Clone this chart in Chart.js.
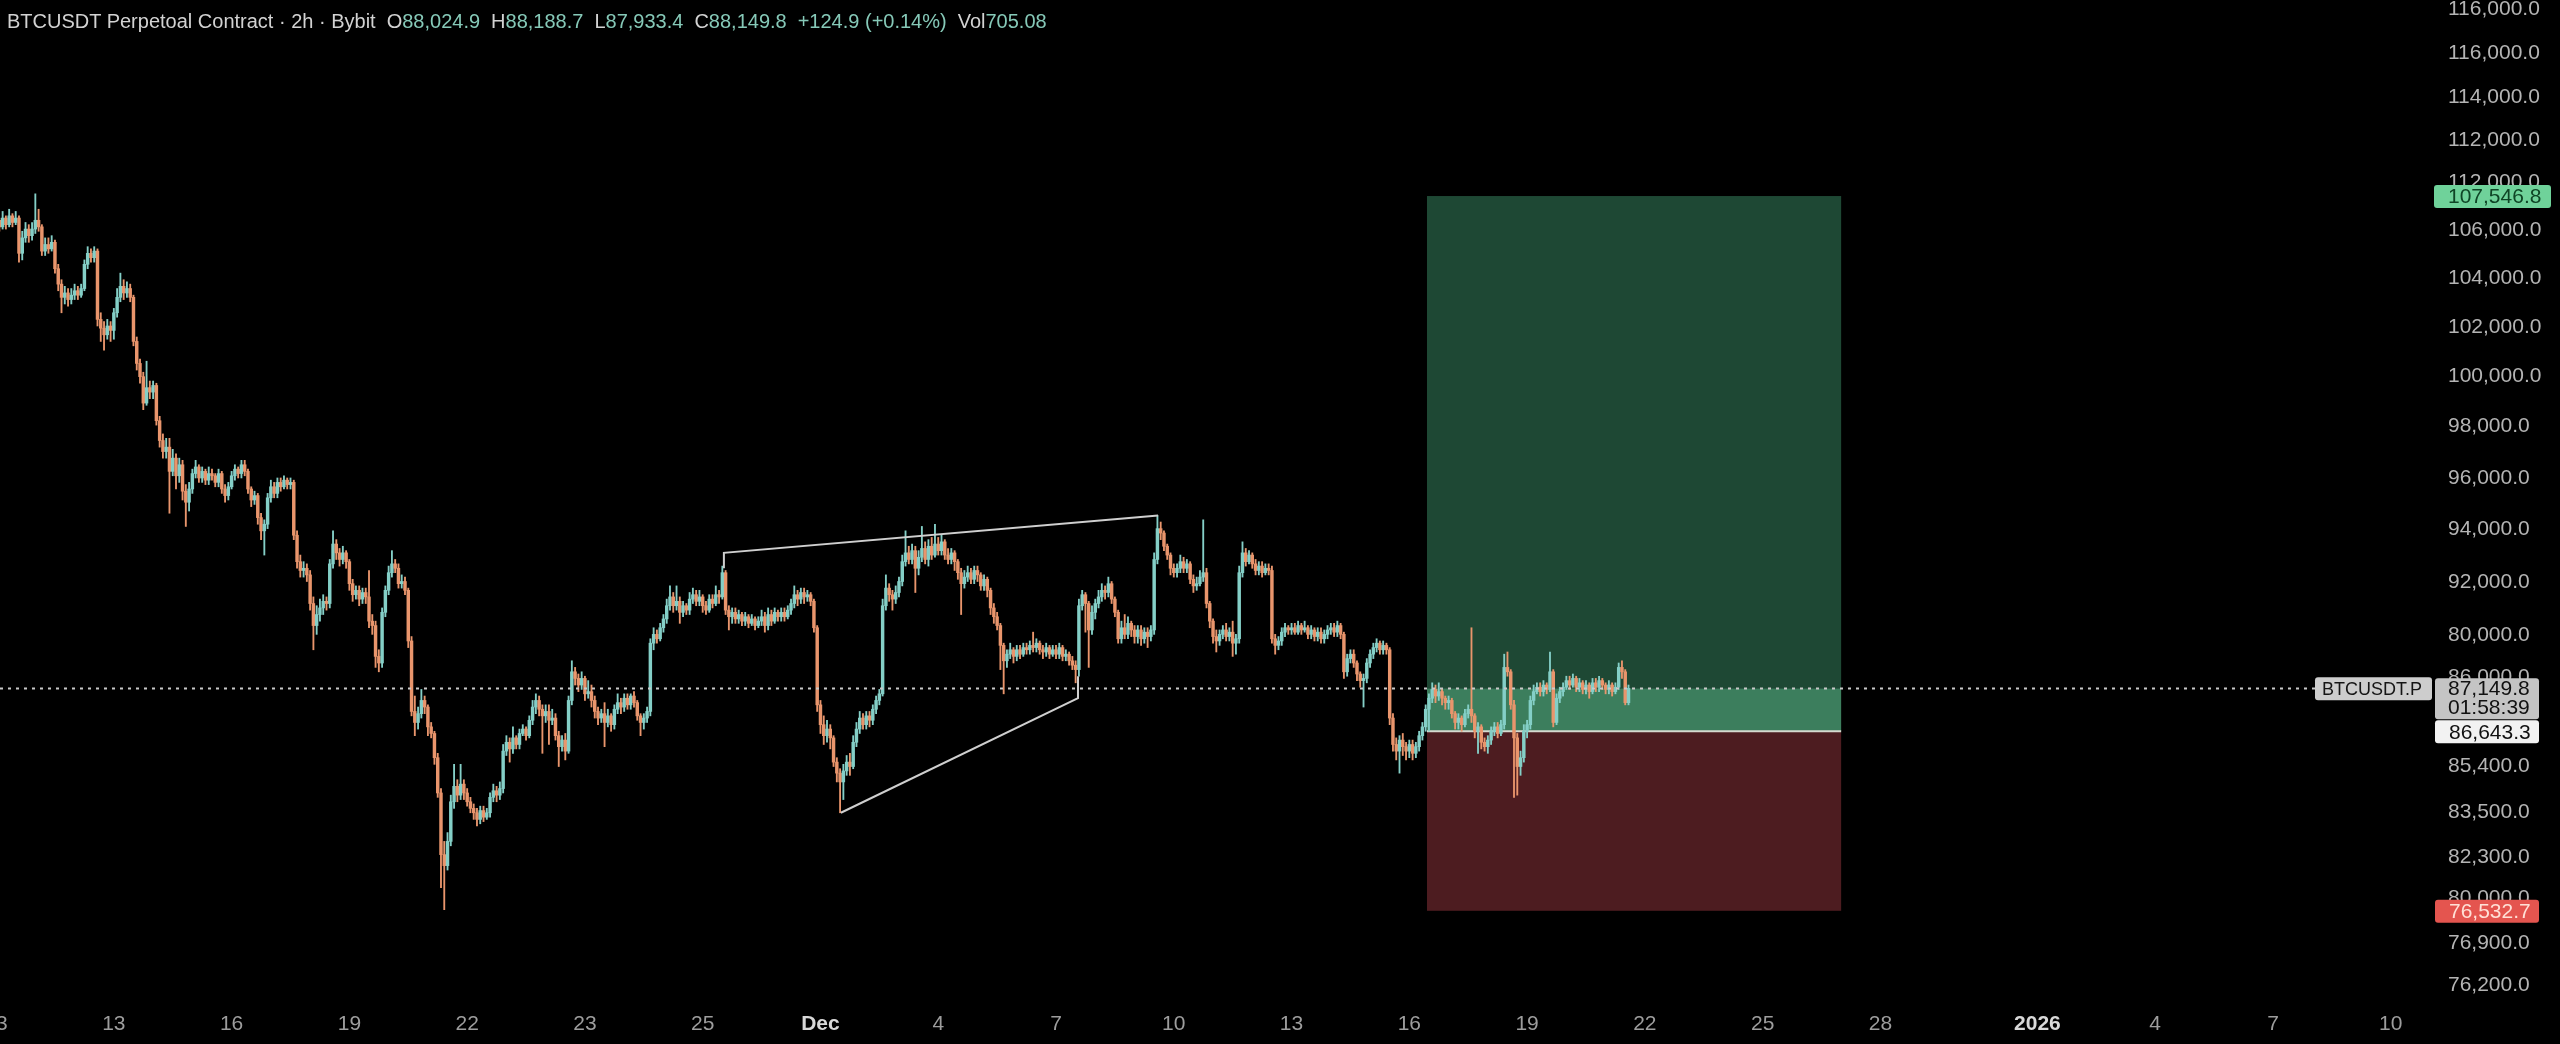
<!DOCTYPE html>
<html>
<head>
<meta charset="utf-8">
<title>BTCUSDT 2h</title>
<script src="https://cdn.jsdelivr.net/npm/chart.js@4.4.1/dist/chart.umd.min.js"></script>
<style>
  html, body { margin: 0; padding: 0; background: #000; }
  #wrap { position: relative; width: 2560px; height: 1044px; overflow: hidden; }
  #chart { position: absolute; left: 0; top: 0; }
  #header {
    position: absolute; left: 7px; top: 9px;
    font: 20px "Liberation Sans", Arial, sans-serif; line-height: 24px;
    color: #d2d2d2; white-space: nowrap;
  }
  #header .g { margin-left: 11px; }
  #header .v { color: #86c9b8; }
</style>
</head>
<body>
<div id="wrap">
  <canvas id="chart" width="2560" height="1044"></canvas>
  <div id="header">BTCUSDT Perpetoal Contract · 2h · Bybit<span class="g">O<span class="v">88,024.9</span></span><span class="g">H<span class="v">88,188.7</span></span><span class="g">L<span class="v">87,933.4</span></span><span class="g">C<span class="v">88,149.8</span></span><span class="g v">+124.9 (+0.14%)</span><span class="g">Vol<span class="v">705.08</span></span></div>
</div>
<script>
// prices in thousands of USDT, one bar every 2 hours starting Nov 10
const firstOpen = 108.3;

const closes = [
  108.4,108.1,108.5,108.2,108.6,108.3,108.5,106.9,107.6,108.0,107.7,108.0,
  108.4,108.1,107.0,107.3,107.1,107.4,106.2,105.5,104.9,105.1,104.8,105.0,
  105.2,105.0,105.3,106.4,106.9,106.7,107.0,103.9,103.5,103.2,103.6,103.4,
  104.2,104.9,105.4,105.1,105.3,104.9,102.9,101.9,101.3,100.1,100.8,100.6,
  100.9,99.3,98.4,97.9,98.1,97.0,97.6,96.8,97.3,96.1,95.6,96.2,
  96.9,97.2,96.7,97.0,96.6,96.9,96.8,96.5,96.9,96.2,95.9,96.3,
  96.8,97.1,96.9,97.3,97.0,96.2,95.7,95.9,94.9,94.3,94.6,95.8,
  96.3,96.0,96.5,96.3,96.6,96.4,96.5,94.1,92.9,92.5,92.6,92.3,
  91.0,90.0,90.5,90.8,91.1,91.0,92.8,93.7,93.3,93.0,93.3,92.9,
  91.9,91.4,91.6,91.2,91.5,91.3,90.2,90.0,88.6,88.3,90.6,91.6,
  92.4,92.8,92.6,91.9,92.0,91.6,89.3,86.1,85.6,86.0,86.6,86.3,
  85.4,85.1,84.0,82.4,79.6,79.1,80.2,82.0,82.7,82.3,82.8,82.4,
  82.0,81.7,81.5,81.2,81.6,81.3,81.5,82.2,82.5,82.3,82.6,84.3,
  84.7,84.4,84.9,84.6,85.1,85.3,85.0,85.7,86.3,86.6,86.2,85.9,
  86.1,85.7,85.8,85.0,84.5,84.8,84.3,86.6,87.9,87.6,87.3,87.6,
  86.9,87.0,86.6,86.1,85.8,86.0,85.6,85.9,85.5,86.2,86.5,86.3,
  86.7,86.4,86.8,86.5,85.9,85.6,85.8,86.1,89.2,89.6,89.4,89.9,
  90.3,90.9,91.3,90.9,91.1,90.6,90.9,90.7,91.2,91.4,91.1,91.3,
  90.9,90.7,91.2,91.0,91.4,91.3,92.4,90.7,90.4,90.6,90.3,90.5,
  90.2,90.4,90.1,90.3,90.0,90.2,90.4,90.0,90.5,90.2,90.6,90.4,
  90.6,90.4,90.7,91.0,91.4,91.2,91.5,91.3,91.4,91.1,89.9,86.4,
  85.5,85.0,85.3,84.9,83.8,83.3,82.9,83.4,83.8,83.6,84.7,85.3,
  85.8,85.5,85.9,85.7,86.2,86.6,86.9,90.9,91.7,91.4,91.2,91.5,
  92.0,92.9,93.3,93.0,93.4,92.6,93.1,93.5,93.0,93.6,93.2,93.7,
  93.4,93.8,93.2,93.0,93.3,92.9,92.4,91.9,92.2,92.4,92.1,92.5,
  92.3,91.8,92.1,91.6,90.8,90.4,90.0,89.1,88.4,88.7,88.9,88.6,
  88.9,88.7,89.0,88.9,89.1,89.0,89.2,88.9,88.8,89.0,88.7,88.9,
  88.7,89.0,88.6,88.7,88.4,88.2,88.0,90.9,91.4,91.0,89.8,90.6,
  91.0,91.3,91.6,91.5,91.9,91.2,90.6,89.4,89.9,89.6,90.1,89.8,
  89.5,89.8,89.4,89.7,89.5,89.8,93.0,94.4,94.2,93.6,93.2,92.6,
  92.4,92.6,92.9,92.6,92.8,92.1,91.8,91.9,92.2,92.4,91.0,90.2,
  89.5,89.3,89.6,89.8,89.5,89.7,89.2,89.4,92.4,93.3,92.9,93.2,
  92.8,92.5,92.7,92.4,92.6,92.5,89.4,89.1,89.3,89.7,89.9,89.8,
  89.9,89.7,90.0,89.8,89.9,89.6,89.8,89.5,89.7,89.4,89.6,89.8,
  89.9,89.7,90.0,89.6,87.9,88.5,88.7,88.3,87.8,87.5,87.6,88.3,
  88.7,89.0,89.2,88.9,89.1,88.9,85.8,84.6,84.3,84.8,84.5,84.3,
  84.6,84.2,84.5,85.0,85.4,86.2,86.7,87.1,86.8,87.0,86.7,86.5,
  86.6,86.0,85.6,85.8,85.5,86.0,86.2,85.9,85.2,85.4,84.7,84.5,
  84.8,85.2,85.4,85.1,85.5,88.1,87.9,86.4,84.9,83.6,84.0,85.2,
  85.5,86.6,87.0,87.2,87.0,87.3,87.1,87.9,85.6,86.7,87.0,87.2,
  87.5,87.3,87.6,87.2,87.4,87.1,87.3,87.0,87.4,87.2,87.5,87.3,
  87.1,87.3,87.0,87.2,88.1,87.9,86.5,87.15
];

const highs = [
  108.7,108.5,108.8,108.6,108.9,108.7,108.8,108.6,107.9,108.3,108.2,108.3,
  109.6,108.9,108.2,107.6,107.6,107.7,107.5,106.4,105.7,105.4,105.3,105.3,
  105.5,105.4,105.5,106.6,107.2,107.1,107.2,107.1,104.2,103.8,103.9,103.8,
  104.4,105.3,106.0,105.7,105.6,105.5,105.0,103.1,102.1,101.5,102.0,101.1,
  101.1,101.0,99.5,98.7,98.5,98.5,98.0,97.8,97.6,97.5,96.4,96.5,
  97.1,97.5,97.3,97.2,97.1,97.2,97.1,96.9,97.1,97.0,96.4,96.5,
  97.0,97.3,97.2,97.5,97.5,97.1,96.3,96.1,96.0,95.1,94.8,96.0,
  96.6,96.5,96.7,96.7,96.8,96.7,96.7,96.6,94.3,93.2,92.9,92.8,
  92.5,91.3,90.9,91.2,91.4,91.3,93.0,94.3,93.9,93.5,93.6,93.4,
  93.0,92.1,91.8,91.8,91.7,91.7,92.5,90.5,90.2,88.9,90.8,91.8,
  92.7,93.4,93.0,92.8,92.3,92.2,91.7,89.5,86.8,86.3,87.1,86.8,
  86.4,85.6,85.2,84.2,82.6,80.2,80.6,82.3,83.7,83.0,83.7,83.0,
  82.6,82.2,81.9,81.7,81.8,81.8,81.7,82.4,82.8,82.7,82.9,84.6,
  85.0,84.9,85.4,85.0,85.3,85.5,85.4,85.9,86.6,86.9,86.8,86.4,
  86.4,86.4,86.2,86.0,85.2,85.0,85.1,86.8,88.4,88.1,87.8,87.9,
  87.7,87.5,87.3,86.8,86.3,86.2,86.5,86.2,86.0,86.4,86.9,86.7,
  86.9,86.9,86.9,87.0,86.6,86.0,86.0,86.3,89.4,89.9,89.8,90.1,
  90.5,91.2,91.8,91.5,91.8,91.3,91.1,91.0,91.5,91.7,91.6,91.6,
  91.4,91.1,91.4,91.4,91.8,91.6,92.7,92.5,90.9,90.8,90.8,90.7,
  90.6,90.6,90.5,90.5,90.4,90.4,90.7,90.6,90.8,90.7,90.8,90.7,
  90.8,90.8,90.9,91.2,91.8,91.6,91.7,91.7,91.6,91.5,91.2,90.0,
  86.6,85.9,85.7,85.5,85.0,84.0,83.5,83.7,84.1,84.2,85.0,85.6,
  86.1,86.0,86.1,86.1,86.4,86.8,87.1,91.2,92.3,91.9,91.6,91.8,
  92.2,93.2,94.3,93.6,93.7,93.6,93.4,94.5,93.8,93.9,94.0,94.6,
  94.0,94.1,93.9,93.5,93.5,93.4,93.0,92.6,92.5,92.7,92.6,92.7,
  92.7,92.4,92.3,92.2,91.7,91.0,90.6,90.1,89.2,88.9,89.2,89.0,
  89.1,89.1,89.2,89.2,89.3,89.7,89.4,89.3,89.1,89.2,89.1,89.1,
  89.1,89.2,89.1,88.9,88.8,88.6,88.4,91.2,91.6,91.5,91.1,90.9,
  91.2,91.6,91.9,91.8,92.2,92.0,91.3,90.7,90.2,90.5,90.4,90.2,
  90.0,90.0,90.0,89.9,89.9,90.0,93.3,95.0,94.7,94.3,93.7,93.3,
  92.8,92.8,93.2,93.1,93.0,92.9,92.3,92.2,92.5,94.8,92.6,91.1,
  90.3,89.8,89.8,90.0,90.1,89.9,90.2,89.6,92.7,93.8,93.5,93.4,
  93.3,93.0,92.9,92.9,92.8,92.8,92.7,89.6,89.5,89.9,90.1,90.0,
  90.1,90.1,90.2,90.1,90.2,90.0,90.0,89.9,89.9,89.9,89.8,90.0,
  90.1,90.1,90.2,90.1,89.7,88.7,88.9,88.9,88.4,87.9,87.8,88.5,
  88.9,89.2,89.4,89.3,89.3,89.2,89.0,86.0,84.9,85.0,85.1,84.7,
  84.8,84.8,84.7,85.2,85.6,86.4,86.9,87.4,87.3,87.4,87.1,86.8,
  86.8,86.7,86.1,86.0,85.9,86.2,86.4,89.9,86.0,85.6,85.5,84.9,
  85.0,85.4,85.6,85.6,85.7,88.7,88.8,88.0,86.6,85.1,84.3,85.5,
  85.7,86.8,87.3,87.4,87.4,87.5,87.4,88.8,88.0,86.9,87.2,87.4,
  87.7,87.7,87.8,87.7,87.6,87.5,87.5,87.4,87.6,87.6,87.7,87.6,
  87.4,87.5,87.4,87.4,88.3,88.4,88.0,87.3
];

const lows = [
  108.0,107.9,108.0,108.0,108.1,108.1,108.2,106.5,106.6,107.4,107.4,107.5,
  107.8,107.9,106.8,106.8,106.9,107.0,106.0,105.2,104.2,104.6,104.5,104.6,
  104.8,104.8,104.9,105.2,106.2,106.5,106.5,103.6,102.9,102.5,103.0,102.9,
  103.0,104.0,104.7,104.8,104.9,104.7,102.7,101.6,101.0,99.8,100.0,100.3,
  100.3,99.1,98.1,97.6,97.6,95.1,96.8,96.2,96.5,95.7,94.5,95.2,
  96.0,96.7,96.5,96.5,96.4,96.4,96.6,96.3,96.3,96.0,95.6,95.7,
  96.2,96.6,96.7,96.7,96.8,96.0,95.4,95.5,94.6,93.9,93.2,94.4,
  95.6,95.8,95.8,96.1,96.2,96.2,96.2,93.9,92.6,92.2,92.2,92.0,
  90.7,88.9,89.6,90.2,90.5,90.7,90.8,92.6,93.0,92.7,92.8,92.6,
  91.6,91.1,91.2,90.9,91.0,91.0,89.9,89.6,88.1,87.9,88.1,90.4,
  91.4,92.2,92.4,91.7,91.7,91.4,89.0,85.9,85.0,85.3,85.8,86.0,
  85.0,84.9,83.7,82.2,78.1,77.1,78.9,80.0,81.7,82.0,82.1,82.1,
  81.8,81.5,81.2,80.9,81.0,81.1,81.2,81.3,82.0,82.0,82.1,82.4,
  84.1,83.8,84.2,84.4,84.4,85.0,84.8,84.9,85.5,86.0,85.9,84.2,
  85.6,84.6,85.5,84.8,83.6,84.3,83.9,84.2,86.4,87.3,87.0,87.1,
  86.6,86.7,86.3,85.8,85.5,85.6,84.5,85.4,85.2,85.3,86.0,86.0,
  86.1,86.2,86.2,86.3,85.7,85.0,85.3,85.6,85.9,88.9,89.2,89.3,
  89.7,90.1,90.7,90.6,90.7,90.1,90.4,90.5,90.5,91.0,90.9,90.9,
  90.6,90.5,90.6,90.8,90.9,91.0,91.2,90.5,89.8,90.1,90.1,90.1,
  90.0,90.0,89.9,90.0,89.8,89.9,90.0,89.7,89.8,90.0,90.1,90.2,
  90.2,90.2,90.3,90.5,90.8,90.9,91.0,91.0,91.1,90.9,89.7,86.1,
  85.1,84.6,84.7,84.4,83.6,82.9,81.5,82.1,83.2,83.2,83.5,84.5,
  85.1,85.3,85.3,85.4,85.5,86.0,86.4,86.8,90.7,91.1,90.7,91.0,
  91.3,91.8,92.7,92.8,92.8,91.5,92.3,92.9,92.8,92.7,93.0,93.1,
  93.2,93.2,93.0,92.8,92.8,92.5,92.1,90.5,91.7,92.0,91.9,91.9,
  92.0,91.6,91.6,91.3,90.5,90.1,89.8,88.0,86.9,88.1,88.5,88.3,
  88.4,88.5,88.6,88.7,88.7,88.8,88.8,88.7,88.5,88.6,88.5,88.6,
  88.5,88.5,88.4,88.4,88.2,88.0,87.4,87.7,90.7,89.7,88.1,89.6,
  90.3,90.8,91.1,91.2,91.3,91.0,90.4,89.2,89.2,89.4,89.4,89.5,
  89.2,89.2,89.1,89.2,89.0,89.3,89.6,92.8,93.9,93.4,93.0,92.3,
  92.2,92.2,92.4,92.4,92.4,91.9,91.5,91.6,91.8,92.0,90.8,89.9,
  89.2,88.8,89.1,89.4,89.3,89.3,88.6,88.7,89.2,92.2,92.7,92.8,
  92.6,92.3,92.3,92.2,92.3,92.3,89.2,88.7,88.9,89.1,89.5,89.6,
  89.6,89.6,89.6,89.6,89.7,89.4,89.4,89.3,89.3,89.2,89.2,89.4,
  89.6,89.5,89.5,89.4,87.6,87.7,88.3,88.1,87.5,87.2,86.3,87.4,
  88.1,88.5,88.8,88.7,88.7,88.7,85.5,84.3,83.9,83.3,84.1,83.9,
  84.0,83.9,84.0,84.3,84.8,85.2,85.2,86.5,86.5,86.6,86.4,86.2,
  86.2,85.8,85.3,85.3,85.2,85.4,85.8,85.6,84.9,84.2,84.4,84.3,
  84.2,84.6,85.0,84.9,85.0,85.3,87.7,86.2,82.2,82.3,83.2,83.8,
  84.9,85.3,86.4,86.9,86.8,86.8,86.9,87.0,85.4,85.5,86.5,86.8,
  87.1,87.1,87.2,87.0,87.0,86.9,86.9,86.7,86.9,87.0,87.0,87.1,
  86.9,86.9,86.8,86.9,87.1,87.6,86.4,86.4
];

const barHours = 2;

// time axis, in days after Nov 10
const xTickDays = [0, 3, 6, 9, 12, 15, 18, 21, 24, 27, 30, 33, 36, 39, 42, 45, 48, 52, 55, 58, 61];
const xTickLabels = ['13', '13', '16', '19', '22', '23', '25', 'Dec', '4', '7', '10', '13', '16', '19', '22', '25', '28', '2026', '4', '7', '10'];
const boldLabels = ['Dec', '2026'];

// price axis
const yTickValues = [117.99, 115.99, 114.0, 112.04, 110.14, 107.96, 105.78, 103.55, 101.33, 99.06, 96.70,
                     94.38, 91.98, 89.57, 87.67, 83.62, 81.53, 79.50, 77.63, 75.59, 73.68];
const yTickLabels = ['116,000.0', '116,000.0', '114,000.0', '112,000.0', '112,000.0', '106,000.0', '104,000.0',
                     '102,000.0', '100,000.0', '98,000.0', '96,000.0', '94,000.0', '92,000.0', '80,000.0',
                     '86,000.0', '85,400.0', '83,500.0', '82,300.0', '80,000.0', '76,900.0', '76,200.0'];

// drawings
const wedgeTop = [{x: 18.54, y: 92.6}, {x: 18.54, y: 93.3}, {x: 29.6, y: 95.0}];
const wedgeBottom = [{x: 21.52, y: 81.5}, {x: 27.56, y: 86.7}, {x: 27.56, y: 87.7}];

// long position: from / to (days), target / entry / stop (price)
const positionDays = [36.45, 47.0];
const positionLevels = [109.5, 85.2, 77.05];
const positionLabels = ['107,546.8', '86,643.3', '76,532.7'];
const lastPriceLabel = '87,149.8';
const countdownLabel = '01:58:39';
const symbolLabel = 'BTCUSDT.P';

const UP = '#84cfc7';
const DOWN = '#e9956c';
const FONT = '"Liberation Sans", Arial, sans-serif';

const opens = closes.map((c, i) => i ? closes[i - 1] : firstOpen);
const dayOf = i => i * barHours / 24;
const candleColors = closes.map((c, i) => c >= opens[i] ? UP : DOWN);

const wickData = closes.map((c, i) => ({
  x: dayOf(i),
  y: [Math.min(lows[i], opens[i], c), Math.max(highs[i], opens[i], c)]
}));
const bodyData = closes.map((c, i) => ({
  x: dayOf(i),
  y: [Math.min(opens[i], c), Math.max(opens[i], c)]
}));

function badge(ctx, x, y, w, h, fill, text, color, size, inset) {
  ctx.fillStyle = fill;
  ctx.beginPath();
  ctx.roundRect(x, y, w, h, 3);
  ctx.fill();
  if (text) {
    ctx.fillStyle = color;
    ctx.font = (size || 21) + 'px ' + FONT;
    ctx.textBaseline = 'middle';
    ctx.textAlign = 'left';
    ctx.fillText(text, x + (inset || 14), y + h / 2 + 1);
  }
}

const positionPlugin = {
  id: 'positionPlugin',
  beforeDatasetsDraw(chart) {
    const {ctx, scales: {x, y}} = chart;
    const left = x.getPixelForValue(positionDays[0]);
    const right = x.getPixelForValue(positionDays[1]);
    const yTarget = y.getPixelForValue(positionLevels[0]);
    const yEntry = y.getPixelForValue(positionLevels[1]);
    const yStop = y.getPixelForValue(positionLevels[2]);
    const yLast = y.getPixelForValue(closes[closes.length - 1]);
    ctx.save();
    ctx.fillStyle = '#1e4834';
    ctx.fillRect(left, yTarget, right - left, yLast - yTarget);
    ctx.fillStyle = '#3c7e5d';
    ctx.fillRect(left, yLast, right - left, yEntry - yLast);
    ctx.fillStyle = '#4d1c20';
    ctx.fillRect(left, yEntry, right - left, yStop - yEntry);
    ctx.strokeStyle = '#d6d9cf';
    ctx.lineWidth = 2;
    ctx.beginPath();
    ctx.moveTo(left, yEntry);
    ctx.lineTo(right, yEntry);
    ctx.stroke();
    ctx.restore();
  },
  afterDatasetsDraw(chart) {
    const {ctx, chartArea, scales: {y}} = chart;
    const yLast = Math.round(y.getPixelForValue(closes[closes.length - 1])) + 0.5;
    ctx.save();
    ctx.strokeStyle = '#c9c9c9';
    ctx.lineWidth = 2;
    ctx.setLineDash([3, 5]);
    ctx.beginPath();
    ctx.moveTo(chartArea.left, yLast);
    ctx.lineTo(chartArea.right - 115, yLast);
    ctx.stroke();
    ctx.restore();
  },
  afterDraw(chart) {
    const {ctx, chartArea, scales: {y}} = chart;
    const r = chartArea.right;
    const yTarget = y.getPixelForValue(positionLevels[0]);
    const yEntry = y.getPixelForValue(positionLevels[1]);
    const yStop = y.getPixelForValue(positionLevels[2]);
    const yLast = y.getPixelForValue(closes[closes.length - 1]);
    ctx.save();
    badge(ctx, r + 4, yTarget - 11, 117, 23, '#6fd29a', positionLabels[0], '#0f4526');
    badge(ctx, r + 5, yEntry - 11, 104, 23, '#f2f2f2', positionLabels[1], '#111');
    badge(ctx, r + 5, yStop - 11, 104, 23, '#e4554f', positionLabels[2], '#ffe0d6');
    badge(ctx, r - 115, yLast - 11, 117, 23, '#cdcdcd', symbolLabel, '#151515', 18, 7);
    badge(ctx, r + 5, yLast - 10, 104, 41, '#c4c4c4', '', '');
    ctx.fillStyle = '#111';
    ctx.font = '21px ' + FONT;
    ctx.textBaseline = 'middle';
    ctx.fillText(lastPriceLabel, r + 18, yLast + 1);
    ctx.fillText(countdownLabel, r + 18, yLast + 20);
    ctx.restore();
  }
};

Chart.defaults.font.family = FONT;

new Chart(document.getElementById('chart'), {
  type: 'bar',
  data: {
    datasets: [
      {
        type: 'line', data: wedgeTop, borderColor: '#cfcfcf', borderWidth: 2,
        pointRadius: 0, fill: false, tension: 0, order: 0
      },
      {
        type: 'line', data: wedgeBottom, borderColor: '#cfcfcf', borderWidth: 2,
        pointRadius: 0, fill: false, tension: 0, order: 0
      },
      {
        type: 'bar', data: bodyData, backgroundColor: candleColors, borderWidth: 0,
        barThickness: 2.8, minBarLength: 1.5, grouped: false, order: 1
      },
      {
        type: 'bar', data: wickData, backgroundColor: candleColors, borderWidth: 0,
        barThickness: 1.2, grouped: false, order: 2
      }
    ]
  },
  options: {
    responsive: false,
    animation: false,
    devicePixelRatio: 1,
    layout: { padding: 0 },
    plugins: {
      legend: { display: false },
      tooltip: { enabled: false }
    },
    scales: {
      x: {
        type: 'linear', min: 0.1, max: 62, offset: false,
        grid: { display: false, drawTicks: false },
        border: { display: false },
        afterBuildTicks: s => { s.ticks = xTickDays.map(v => ({ value: v })); },
        afterFit: s => { s.height = 44; s.paddingLeft = 0; s.paddingRight = 0; },
        ticks: {
          autoSkip: false, maxRotation: 0, padding: 12,
          callback: (v, i) => xTickLabels[i],
          color: c => boldLabels.includes(xTickLabels[c.index]) ? '#d8d8d8' : '#9d9d9d',
          font: c => ({ size: 21, weight: boldLabels.includes(xTickLabels[c.index]) ? 'bold' : 'normal' })
        }
      },
      y: {
        type: 'linear', position: 'right', min: 73.0, max: 118.4,
        grid: { display: false, drawTicks: false },
        border: { display: false },
        afterBuildTicks: s => { s.ticks = yTickValues.map(v => ({ value: v })); },
        afterFit: s => { s.width = 130; s.paddingTop = 0; s.paddingBottom = 0; },
        ticks: {
          autoSkip: false, padding: 18, color: '#b4b4b4', font: { size: 21 },
          callback: (v, i) => yTickLabels[i]
        }
      }
    }
  },
  plugins: [positionPlugin]
});
</script>
</body>
</html>
